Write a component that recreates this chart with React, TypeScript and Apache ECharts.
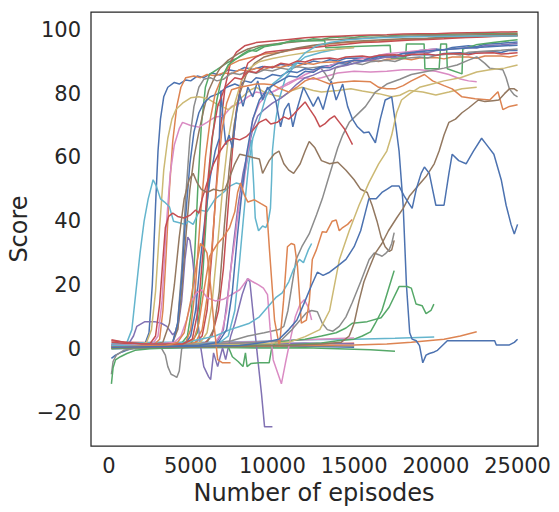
import React, { useEffect, useRef } from "react";
import * as echarts from "echarts";

const C = {
  blue: "#4C72B0", orange: "#DD8452", green: "#55A868", red: "#C44E52", purple: "#8172B3",
  brown: "#937860", pink: "#DA8BC3", gray: "#8C8C8C", yellow: "#CCB974", cyan: "#64B5CD",
};

const xTicks = [0, 5000, 10000, 15000, 20000, 25000];
const yTicks = [-20, 0, 20, 40, 60, 80, 100];

const blueZ = [[150,0],[4000,0.3],[8000,0.5],[12000,0.8],[15000,0.5]];
const grayZ = [[150,0.5],[4000,0.8],[8000,1],[12000,1],[15000,0.8]];
const redZ = [[150,2.8],[1000,2],[4000,1.8],[8000,1.6],[12000,1.5],[15000,1.7]];
const purpleZ = [[150,1.5],[4000,1.2],[8000,1.5],[12000,1.8],[15000,1.5]];
const greenZ = [[150,0.5],[3000,0.3],[6000,0.5],[9000,0.2],[12000,0.3],[14000,0],[16000,-0.3],[17500,-0.8]];
const orangeZ = [[150,0.3],[3000,0.5],[6000,0.6],[9000,0.8],[12000,1],[15000,1.2],[17000,1.5],[18500,2],[19500,2.5],[20500,3],[21500,4],[22500,5.3]];
const cyanZ = [[150,1.5],[3000,2],[6000,2],[9000,2.3],[12000,2.8],[15000,3],[17500,3.3],[19900,3.7]];
const pinkZ = [[150,1],[3000,1.5],[6000,1.8],[9000,2.2],[12000,2.8],[14000,3.2],[15000,3.4]];

const blueA = [[150,-3],[400,-2],[800,-1],[1300,0],[1800,0.5],[2200,1.5],[2450,5],[2650,20],[2850,45],[3000,62],[3150,72],[3350,79],[3600,82],[4000,83.5],[4300,83],[4700,84.3],[5000,84],[5400,85.5],[5800,85],[6300,86.5],[6800,85.8],[7300,87.5],[7800,87],[8300,88.2],[8800,87.6],[9400,88.5],[10000,88.1],[10500,89.2],[11000,88.7],[11500,89.6],[12000,89.2],[12500,90.2],[13000,89.8],[13500,90.6],[14000,90.2],[14500,91.1],[15500,91.2],[16000,90.8],[16500,91.6],[17500,92],[18000,91.6],[18500,92.2],[19500,92.3],[20000,92],[20500,92.6],[21500,92.8],[22000,92.4],[22500,93.1],[23500,93.2],[24000,92.9],[24500,93.6],[25000,93.5]];
const orangeA = [[150,1],[1500,1],[2800,1.5],[3100,3],[3300,12],[3500,30],[3700,50],[3900,65],[4150,76],[4400,82],[4700,85],[5200,85.5],[5600,85],[6000,86],[6500,85.6],[7000,86.5],[7500,86.2],[8000,87.5],[8500,87.1],[9000,88],[9500,87.6],[10000,88.5],[10500,88.2],[11000,89],[11500,88.6],[12000,89.5],[12500,89.2],[13000,89.8],[14000,90],[14500,89.6],[15000,90.3],[16000,90.5],[16500,90.1],[17000,90.8],[18000,91],[18500,90.6],[19000,91.2],[20000,91.3],[20500,90.9],[21000,91.5],[22000,91.5],[22500,91.1],[23000,91.8],[24000,91.8],[24500,91.5],[25000,92]];
const yellowA = [[150,0.5],[1800,1],[2300,2],[2600,6],[2850,18],[3100,38],[3350,56],[3600,66],[3850,72],[4100,75],[4500,77],[5000,78.7],[5500,79],[6000,78.5],[6500,77],[6900,76],[7300,75],[7700,76.5],[8100,78.7],[8600,81],[9000,82],[9500,80.5],[10000,79.6],[10600,79],[11200,81],[11800,82],[12500,81],[13000,80.5],[14000,81],[14800,81.5],[15500,80.8],[16500,80],[17300,79],[17800,79.5],[18400,81],[19200,80.5],[20000,79.6],[20800,80.5],[21600,81.5],[22500,82]];
const greenA = [[150,0.5],[3500,1],[4400,1.5],[4800,4],[5050,12],[5250,30],[5450,52],[5650,70],[5900,82],[6150,86],[6600,87.5],[7200,89.6],[7800,91],[8200,92.5],[8600,93.7],[9000,93.3],[9500,94.7],[10000,95.2],[10500,95.5],[11000,96.4],[11500,96.9],[12000,96.7],[12500,97.2],[13000,97],[13500,97.5],[14500,97.8],[15000,97.6],[15500,98],[16500,98.2],[17000,98],[17500,98.3],[18500,98.5],[19500,98.5],[20500,98.6],[21500,98.7],[22500,98.8],[23500,98.8],[24500,98.9],[25000,98.9]];
const redA = [[150,0.5],[4000,1],[5200,1.5],[5700,4],[6000,12],[6300,30],[6550,50],[6800,68],[7100,82],[7450,90],[7800,93],[8300,95],[9000,96],[10000,96.5],[11000,97],[12000,97.5],[13000,97.8],[14000,98],[15000,98.2],[16000,98.4],[17000,98.5],[18000,98.7],[19000,98.8],[20000,98.8],[21000,99],[22000,99.1],[23000,99.2],[24000,99.3],[25000,99.4]];
const brownA = [[150,0.5],[3000,1],[3900,2],[4200,6],[4450,18],[4700,35],[4950,50],[5200,60],[5500,68],[5800,75],[6100,81],[6450,85],[6800,88],[7300,90.5],[7900,92.5],[8500,94],[9200,95],[10000,95.5],[11000,96],[12000,96.5],[13000,96.8],[14000,97],[15000,97.3],[16000,97.5],[17000,97.8],[18000,98],[19000,98.1],[20000,98.2],[21000,98.3],[22000,98.4],[23000,98.5],[24000,98.6],[25000,98.6]];
const grayA = [[150,0.5],[3000,1],[3900,2],[4200,8],[4450,25],[4700,48],[4950,66],[5200,76],[5500,82],[5800,84.5],[6200,85],[6600,84],[7000,84.5],[7500,86.5],[8000,86],[8500,87],[9000,86.4],[9500,87.5],[10000,87.1],[10500,88],[11000,87.6],[11500,88.4],[12200,88],[12900,88.4],[13200,86.5],[13500,84],[13700,85],[13850,88],[14500,89],[15000,89.5],[15500,89.1],[16000,90],[17000,90.5],[17500,90.1],[18000,91],[19000,91.5],[19500,91.2],[20000,92],[21000,92.5],[21500,92.1],[22000,93],[23000,93.3],[24000,93.6],[25000,94]];
const redB = [[150,1],[4500,1],[5800,1.5],[6300,4],[6700,12],[7000,25],[7300,45],[7550,62],[7800,75],[8100,83.7],[8500,89.6],[9000,91.5],[9600,93],[10500,93.5],[11500,94],[12500,94.5],[13500,95],[14500,95.5],[15500,96],[16500,96.2],[17500,96.5],[18500,96.8],[19500,97],[20500,97.2],[21500,97.5],[22500,97.7],[23500,97.9],[25000,98.2]];
const orangeB = [[150,0.5],[4000,1],[4700,2],[5000,6],[5300,20],[5600,42],[5900,60],[6200,72],[6500,80],[6900,85],[7400,89],[8000,90.5],[8800,91.5],[9600,92.5],[10500,93],[11500,94],[12500,95],[13500,95.6],[14500,96],[15500,96.3],[16500,96.5],[17500,96.8],[18500,97],[19500,97.3],[20500,97.5],[21500,97.6],[22500,97.8],[23500,98],[25000,98.1]];
const cyanA = [[150,0.5],[700,1],[1100,2],[1400,6],[1650,18],[1900,30],[2150,40],[2400,47],[2700,53],[2900,51],[3150,47],[3400,46],[3700,44.5],[3950,40],[4300,39.5],[4650,39],[4850,40],[5150,39],[5550,43.5],[6000,43],[6500,47],[7000,49],[7400,51],[7800,52],[8100,51.5],[8350,56],[8550,61.5],[8700,65.5],[8850,52],[8950,41],[9150,37],[9400,38.5],[9600,38],[9750,40],[9880,44],[9950,53],[10000,62],[10150,70],[10400,78],[10800,85],[11400,89],[12000,91.5],[13000,93],[14000,94],[15000,94.5]];
const cyanB = [[150,1],[5500,1.5],[6800,2],[7300,4],[7700,12],[8000,28],[8300,45],[8550,58],[8800,66],[9200,72],[9600,79],[10000,83],[10500,85],[11000,87.5],[11500,90],[12000,92.8],[12700,95],[13500,96],[14500,96.8],[15500,97.2],[16500,97.5],[17500,97.7],[18500,97.8],[19500,97.9],[20500,98],[21500,98],[22500,98.1],[23500,98.1],[25000,98.1]];
const blueB = [[150,0.5],[3300,1],[3900,2],[4200,8],[4450,22],[4700,42],[4950,58],[5200,68],[5500,74],[5800,77],[6200,79],[6700,80],[7200,82],[7700,83],[8000,82.4],[8300,84],[8700,83.5],[9000,85],[9500,84.6],[10000,86],[10500,85.5],[11000,87],[11500,86.6],[12000,87.8],[12500,87.4],[13000,88.5],[13500,88.8],[14000,89.5],[14500,89.2],[15000,90.5],[15500,90.2],[16000,91.3],[16500,91],[17000,92],[17500,91.7],[18000,92.8],[18500,92.5],[19000,93.5],[20000,94],[20500,93.7],[21000,94.5],[22000,95],[22500,94.7],[23000,95.5],[24000,95.8],[25000,96.2]];
const blueC = [[150,0.5],[3500,0.5],[4600,1],[5000,4],[5300,12],[5600,28],[5900,42],[6200,54],[6500,62],[6750,66],[6850,81],[6950,74],[7150,64],[7350,67],[7550,63],[7800,74],[8000,80],[8200,76],[8500,82],[8800,79],[9100,84],[9400,78],[9700,82],[10000,80],[10200,78],[10500,69.6],[10750,75],[11000,77],[11250,69.6],[11500,75],[11900,82],[12200,79],[12500,76],[12800,79],[13100,75],[13400,81],[13600,84],[13900,78],[14300,83],[14600,76],[14900,72],[15200,69.6],[15600,67.7],[15900,68],[16300,64.6],[16600,72],[16900,78],[17300,79],[17550,70],[17750,62],[18000,45],[18200,20],[18400,5],[18550,3],[18800,2.5],[19000,1],[19200,-4.4],[19400,-2],[19600,-1.5],[19900,-1],[20100,-0.5],[20400,1],[20700,2.5],[22000,2.5],[23600,2.5],[23700,1.2],[24500,1.2],[24800,2],[25000,3]];
const purpleA = [[150,1],[5500,1],[6600,2],[7000,6],[7300,18],[7600,32],[7900,45],[8200,55],[8500,62],[8800,69],[9100,73],[9500,75],[10000,77],[10500,78.5],[11000,80.5],[11500,83],[12000,85],[12500,85.8],[13000,87],[13500,87.4],[14000,88.5],[14500,88.8],[15000,89.5],[15500,90.1],[16000,90.5],[17000,91.5],[17500,91.3],[18000,92],[19000,93],[19500,92.8],[20000,93.5],[21000,94],[22000,94.5],[22500,94.3],[23000,95],[24000,95.3],[25000,95.7]];
const pinkA = [[150,1],[5500,1.5],[6500,2],[6900,5],[7200,12],[7450,25],[7700,34],[7950,44.5],[8250,52],[8500,62],[8800,72],[9200,77],[9700,80],[10200,81],[11000,83],[12000,86],[13000,88],[14000,89.5],[15000,90.5],[16000,91.5],[17000,92.5],[18000,93],[19000,93.5],[20000,94]];
const pinkB = [[150,1],[2600,1],[3000,4],[3250,15],[3500,38],[3750,55],[4000,64],[4300,69],[4500,71],[5000,70],[5500,69.5],[6000,71],[6500,72.7],[7000,73],[7500,76],[8000,77],[8500,79],[9000,80.5],[9500,80],[10000,80.5],[10500,82],[11000,83.5],[11500,84.6],[12000,85],[12500,84.5],[13000,85],[14000,86.5],[15000,87],[16000,86.8],[17000,87],[18000,87.5],[19000,87.5],[20000,87],[20800,86],[21500,84.6],[22000,84],[22500,83.7]];
const orangeC = [[150,0.5],[4500,1],[5300,2],[5700,6],[6000,16],[6300,32],[6600,52],[6900,68],[7200,77],[7500,81.2],[8000,82],[8500,82.5],[9000,83],[9500,83],[10000,82.8],[10500,81.5],[11000,80.5],[11500,82],[12000,84],[12500,85],[13000,84],[13500,83],[14000,83.5],[15000,84],[16000,83.7],[16500,82],[17000,81.5],[17500,81.5],[18000,82.5],[18500,84],[19300,86],[19800,84],[20500,82.5],[21000,81.5],[21600,79],[22400,78.4],[23300,78],[23800,80.6],[24100,75],[24500,76],[25000,76.5]];
const grayB = [[150,-8],[250,-4],[450,-2],[900,-0.5],[1500,0],[3200,0.3],[3450,-2],[3600,-5.6],[3800,-8],[4000,-8.5],[4150,-9],[4300,-7],[4450,0],[4700,1],[6000,1.5],[7500,2.5],[8500,4],[9500,5],[10400,6],[10700,7],[10950,12],[11200,20],[11450,28],[11800,32],[12250,36],[12700,42],[13050,47],[13400,53],[13700,58],[14000,63],[14300,67],[14700,71],[15200,73.5],[15700,76],[16300,80.5],[17000,83],[17800,84.5],[18500,86],[19500,87],[20500,88],[21300,89],[22000,90.5],[22500,91.5],[23000,89.5],[23300,88],[24100,87.5],[24300,85],[24500,81.5],[24800,79.6],[25000,79]];
const yellowB = [[150,0.5],[6000,1],[9000,1.5],[11000,2],[12000,3.8],[12900,6],[13500,12],[13800,20],[14100,28],[14700,37],[15300,45],[15900,52],[16500,58],[17000,62],[17300,67],[17600,74],[17900,78],[18400,80],[19000,82],[19600,82.8],[20500,84],[21500,85],[22500,86.8],[23300,87.5],[24200,88],[25000,89]];
const greenB = [[150,0.3],[4000,0.8],[5000,1.5],[5400,5],[5700,20],[6000,45],[6300,65],[6600,78],[6900,85],[7300,89],[7800,91],[8500,93],[9300,94.7],[10200,95.5],[11000,96.3],[12000,96.6],[13200,96.6],[13260,94.4],[15000,94.8],[17200,95.2],[17260,91.2],[18150,91.2],[18200,95.6],[19280,95.6],[19330,87.8],[20200,87.8],[20300,95.6],[20650,95.6],[20700,87.8],[21600,86.2],[21650,94],[22450,95.3],[23500,96],[25000,96.9]];
const redC = [[150,2.5],[2000,1.5],[4500,1.5],[5100,3],[5450,12],[5750,30],[6000,50],[6300,66],[6650,76],[7100,82],[7700,85],[8100,84.5],[8500,87],[9000,86.6],[9500,88.5],[10000,88.2],[10500,89.5],[11000,89.1],[11500,90.2],[12000,89.9],[12500,90.8],[13500,91.2],[14000,90.8],[14500,91.5],[15500,91.8],[16000,91.4],[16500,92],[17500,92.2],[18000,91.8],[18500,92.3],[19500,92.4],[20000,92],[20500,92.5],[21500,92.6],[22000,92.2],[22500,92.7],[23500,92.8],[24000,92.4],[25000,92.8]];
const blueD = [[150,0.5],[5500,1],[6700,2],[7200,6],[7550,18],[7850,35],[8150,50],[8450,62],[8800,72],[9200,78],[9700,81.5],[10300,83.5],[11000,85.5],[11500,85.2],[12000,87],[12500,86.7],[13000,88.3],[13500,88.1],[14000,89.5],[15000,90.5],[15500,90.2],[16000,91.3],[17000,92],[17500,91.8],[18000,92.6],[19000,93.2],[20000,93.6],[21000,94],[22000,94.3],[23000,94.6],[24000,94.9],[25000,95.2]];
const brownB = [[150,0.5],[5000,1],[6000,2],[6400,6],[6750,18],[7050,38],[7350,56],[7650,70],[8000,80],[8400,86],[8900,89.5],[9500,91.5],[10500,93],[11500,94.3],[12500,95.2],[13500,95.8],[15000,96.4],[16500,96.8],[18000,97.2],[19500,97.4],[21000,97.8],[22500,98],[24000,98.3],[25000,98.4]];
const yellowC = [[150,0.5],[4500,1],[5600,2],[6000,5],[6300,14],[6600,30],[6950,50],[7300,66],[7700,77],[8100,84],[8600,88],[9200,90],[10000,91],[11000,92],[12000,92.8],[13000,93.5],[14000,94],[15000,94.5]];
const redR = [[150,2],[1500,1.5],[2500,1.5],[2850,4],[3100,14],[3300,28],[3450,38],[3650,41.5],[3900,42.5],[4200,41.5],[4600,41],[5000,42],[5300,43.5],[5500,42.5],[5700,47],[6000,52],[6400,58],[6800,62],[7200,65],[7600,66],[8000,65.5],[8400,66.5],[8800,68.5],[9200,71],[9600,72],[9900,70.5],[10300,71],[10700,72.7],[11000,72],[11300,73.5],[11650,75.5],[12000,77.4],[12300,75],[12600,72.7],[12900,69.6],[13200,70.5],[13500,72],[13800,73],[14100,71],[14400,69],[14700,66],[14900,64]];
const brownC = [[150,0.5],[2500,1],[3300,2],[3700,8],[4000,20],[4300,35],[4600,47],[4900,53],[5150,55],[5400,52],[5650,50],[6000,49],[6400,50],[6800,49.5],[7100,50],[7400,54],[7700,58],[8000,61],[8400,60.5],[8800,60],[9200,59.5],[9400,55],[9600,57],[9800,59],[10100,61],[10400,62],[10700,58],[11000,56],[11300,55],[11700,58],[12000,62],[12250,65],[12600,63],[13000,59],[13500,58],[14000,58.5],[14500,56],[15000,53],[15400,50],[15800,49],[16100,45],[16400,40],[16650,35],[16900,32],[17150,30.5],[17300,31],[17450,34]];
const brownD = [[150,0.3],[4000,0.5],[8000,0.8],[11000,1],[13000,1.5],[14200,2],[14700,4],[15000,8],[15300,15],[15600,21],[15900,25],[16300,30],[16700,33],[17100,37],[17600,41],[18000,44],[18400,48],[18900,51],[19400,54],[19900,58],[20200,62],[20500,67],[20800,71],[21200,72],[21600,74],[22000,75.5],[22600,78],[23000,77.5],[23500,77.8],[23850,78],[24200,80],[24500,81.5],[24800,81.5],[25000,80.8]];
const grayC = [[150,1],[3000,1],[6000,1.5],[9000,2],[10500,2.5],[11200,6],[11700,9],[12080,11.3],[12400,12],[12750,11.6],[13050,8],[13360,6],[13700,5.5],[14090,7],[14500,10],[14880,14.4],[15400,21],[15920,28],[16230,30],[16500,29.5],[16710,29],[16950,30],[17140,31],[17300,33],[17450,36.4]];
const greenC = [[150,0],[1500,0.3],[4000,0.6],[6000,0.8],[7300,0.6],[7550,-2.5],[7900,-4],[8200,-5.6],[8350,-1.3],[8450,-5.6],[8700,-4.6],[9200,-4.4],[9800,-4.4],[9950,0],[10200,2],[11000,2.5],[12000,3],[13000,4],[13900,5],[14500,6.5],[14900,8],[15800,8.5],[16650,9.7],[17140,13],[17750,19.5],[18240,19.5],[18500,19],[18790,14],[19160,13.5],[19400,11],[19700,12],[19880,14]];
const greenD = [[150,-11],[250,-6],[400,-3.5],[700,-2.5],[1100,-1.5],[1600,-0.5],[2500,0],[5000,0.5],[8000,1],[11000,1.2],[13000,1.8],[14000,2.5],[15000,3],[15500,4],[16000,5.3],[16300,8],[16700,12],[17000,17],[17300,22],[17450,24.5]];
const pinkC = [[150,1],[3000,1.5],[4000,2],[4400,4],[4750,9],[5050,15],[5350,17.5],[5650,18.5],[6000,16],[6500,15],[7000,15.5],[7500,17],[8000,18.5],[8500,22],[8800,21],[9150,20],[9450,19],[9700,17],[9850,7],[10050,-3.5],[10550,-11],[10800,-4.4],[11100,3],[11400,10],[11700,14],[11950,15.4],[12200,13],[12400,9]];
const purpleB = [[150,1],[1200,1.5],[1500,4],[1700,7],[2200,8.5],[2800,8.5],[3200,8],[3540,7],[3900,4.4],[4200,6],[4450,15],[4650,28],[4820,35],[4950,34],[5120,28],[5300,18.5],[5450,8],[5610,0.6],[5800,-5.6],[6100,-8.8],[6220,-9.7],[6400,-1.3],[6650,-5.6],[6950,0.3],[7140,-3.4],[7440,3.8],[7700,8],[7900,12],[8150,17],[8350,20],[8480,22],[8620,21],[8900,7],[9100,-3],[9330,-14],[9520,-24.5],[10000,-24.5]];
const cyanC = [[150,1],[2000,1],[4000,1.5],[5600,3],[6500,4],[7400,6],[8000,7],[8600,8],[9200,10],[9700,13],[10200,16],[10600,17.5],[11000,21],[11300,25],[11650,28],[11900,27],[12200,31],[12400,33]];
const orangeD = [[150,0.5],[3000,1],[4500,1.5],[5200,3],[5500,8],[5800,18],[6160,29],[6650,33],[7000,35],[7380,38],[7700,43],[7870,49],[8050,52],[8300,48],[8500,46],[8900,46.7],[9300,45.5],[9640,44.5],[9820,31],[10130,9],[10430,0.6],[10680,15],[10920,32],[11150,33],[11350,32.6],[11530,26],[11770,8],[12080,9],[12260,15],[12440,28],[12690,31],[13050,36.7],[13300,36.5],[13660,40],[13900,40.4],[14090,37],[14300,38],[14600,39],[14880,40.5]];
const orangeE = [[150,0.5],[3500,1],[4200,2],[4600,5],[5000,15],[5300,25],[5600,33],[5800,32],[6000,30],[6220,19.5],[6400,9],[6650,-3.4],[6950,-4.4],[7200,-4.4],[7440,-4.4]];
const blueE = [[150,0.5],[5000,0.8],[8000,1],[9500,2],[10400,3],[11000,6],[11500,9],[12000,15],[12400,20],[12750,24],[13100,23],[13500,24],[14000,26],[14500,28],[15000,32],[15400,37],[15700,43],[15900,47],[16350,47],[16700,49],[17000,50],[17300,51],[17750,51],[18050,48],[18300,46],[18550,44],[18800,50],[19100,55],[19300,57],[19600,55],[19800,50],[20000,45],[20500,45],[20800,55],[21000,61],[21400,59],[21850,58],[22300,62],[22800,66],[23100,64],[23550,61],[24000,53],[24300,45],[24600,39],[24800,36],[25000,39]];

const seriesDefs: [string, string, number[][]][] = [
  ["blueZ", C.blue, blueZ], ["grayZ", C.gray, grayZ], ["redZ", C.red, redZ], ["purpleZ", C.purple, purpleZ],
  ["greenZ", C.green, greenZ], ["orangeZ", C.orange, orangeZ], ["cyanZ", C.cyan, cyanZ], ["pinkZ", C.pink, pinkZ],
  ["blueA", C.blue, blueA], ["orangeA", C.orange, orangeA], ["greenA", C.green, greenA], ["redA", C.red, redA],
  ["purpleB", C.purple, purpleB], ["brownA", C.brown, brownA], ["pinkB", C.pink, pinkB], ["grayA", C.gray, grayA],
  ["yellowA", C.yellow, yellowA], ["cyanA", C.cyan, cyanA], ["blueB", C.blue, blueB], ["orangeB", C.orange, orangeB],
  ["greenB", C.green, greenB], ["redB", C.red, redB], ["purpleA", C.purple, purpleA], ["brownB", C.brown, brownB],
  ["pinkA", C.pink, pinkA], ["grayB", C.gray, grayB], ["yellowC", C.yellow, yellowC], ["cyanB", C.cyan, cyanB],
  ["blueC", C.blue, blueC], ["orangeC", C.orange, orangeC], ["greenC", C.green, greenC], ["redR", C.red, redR],
  ["brownC", C.brown, brownC], ["pinkC", C.pink, pinkC], ["grayC", C.gray, grayC], ["yellowB", C.yellow, yellowB],
  ["cyanC", C.cyan, cyanC], ["blueD", C.blue, blueD], ["orangeD", C.orange, orangeD], ["greenD", C.green, greenD],
  ["redC", C.red, redC], ["brownD", C.brown, brownD], ["orangeE", C.orange, orangeE], ["blueE", C.blue, blueE],
];

const TXT = "#262626";
const FONT = "DejaVu Sans";
const fmt = (v: number) => (v < 0 ? "\u2212" + Math.abs(v) : String(v));

export default function App() {
  const ref = useRef<HTMLDivElement>(null);
  useEffect(() => {
    if (!ref.current) return;
    const chart = echarts.init(ref.current, undefined, { renderer: "svg" });
    chart.setOption({
      animation: false,
      backgroundColor: "#ffffff",
      grid: { left: 91, top: 12, width: 447, height: 434, show: true, borderColor: TXT, borderWidth: 1.25, backgroundColor: "transparent" },
      xAxis: {
        type: "value", min: -1100, max: 26250,
        axisLine: { show: false }, axisTick: { show: false }, splitLine: { show: false },
        axisLabel: { customValues: xTicks, formatter: fmt, color: TXT, fontSize: 21, fontFamily: FONT, margin: 9 },
      },
      yAxis: {
        type: "value", min: -30.5, max: 105.6,
        axisLine: { show: false }, axisTick: { show: false }, splitLine: { show: false },
        axisLabel: { customValues: yTicks, formatter: fmt, color: TXT, fontSize: 21, fontFamily: FONT, margin: 10 },
      },
      graphic: [
        { type: "text", x: 314, y: 493, style: { text: "Number of episodes", fill: TXT, font: `24px "${FONT}"`, textAlign: "center", textVerticalAlign: "middle" } },
        { type: "text", x: 19, y: 229, rotation: Math.PI / 2, style: { text: "Score", fill: TXT, font: `24px "${FONT}"`, textAlign: "center", textVerticalAlign: "middle" } },
      ],
      series: seriesDefs.map(([name, color, data]) => ({
        type: "line", name, data, showSymbol: false, symbol: "none", clip: true, silent: true,
        lineStyle: { width: 1.5, color }, itemStyle: { color },
      })),
    });
    return () => chart.dispose();
  }, []);
  return <div ref={ref} style={{ position: "fixed", left: 0, top: 0, width: 559, height: 512 }} />;
}
